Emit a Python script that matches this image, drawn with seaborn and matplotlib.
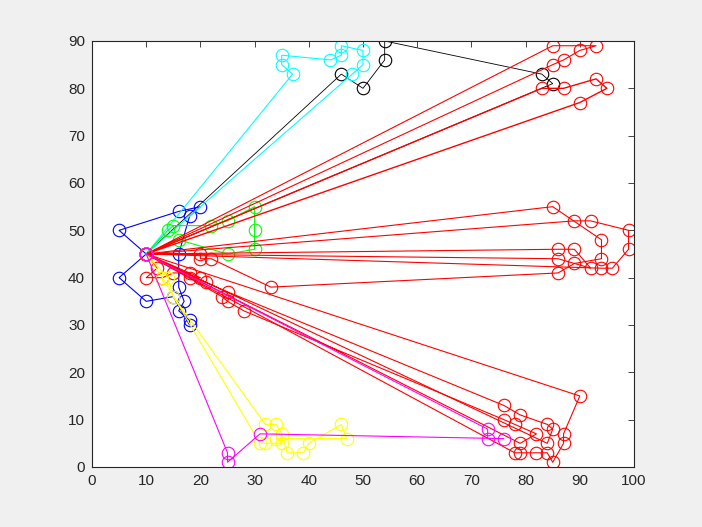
import matplotlib
matplotlib.use("Agg")
import matplotlib.pyplot as plt
import seaborn as sns
import pandas as pd

sns.set_style("white")
plt.rcParams['font.family'] = ['Liberation Sans', 'DejaVu Sans']

# depot
depot = (10, 45)

# routes (customers only; depot added at start and end)
black_x = [46, 50, 54, 54, 83, 85]
black_y = [83, 80, 86, 90, 83, 81]

blue_x = [5, 16, 20, 18, 16, 16, 17, 16, 18, 18, 15, 10, 5]
blue_y = [50, 54, 55, 53, 45, 38, 35, 33, 31, 30, 36, 35, 40]

cyan_x = [37, 35, 35, 44, 46, 46, 50, 50, 48]
cyan_y = [83, 85, 87, 86, 87, 89, 88, 85, 83]

green_x = [14, 15, 22, 25, 30, 30, 30, 25, 16]
green_y = [50, 51, 51, 52, 55, 50, 46, 45, 48]

red1_x = [85, 93, 90, 87, 85]
red1_y = [89, 89, 88, 86, 85]
red2_x = [83, 87, 93, 95, 90]
red2_y = [80, 80, 82, 80, 77]
red3_x = [89, 92, 99, 99, 96, 94]
red3_y = [52, 52, 50, 46, 42, 42]
red4_x = [85, 94, 94, 89, 86, 33, 22, 20, 20]
red4_y = [55, 48, 44, 43, 41, 38, 44, 44, 45]
red5_x = [86, 89, 92, 86]
red5_y = [46, 46, 42, 44]
red6_x = [12, 10, 13, 15, 18, 18, 20]
red6_y = [42, 40, 40, 41, 41, 40, 40]
red7_x = [90, 87, 87, 85, 84, 82, 79, 78]
red7_y = [15, 7, 5, 1, 3, 3, 3, 3]
red8_x = [21, 25, 76, 79, 84, 85, 84]
red8_y = [39, 37, 13, 11, 9, 8, 5]
red9_x = [24, 25, 28, 76, 78, 82, 79]
red9_y = [36, 35, 33, 10, 9, 7, 5]

yellow_x = [14, 15, 32, 34, 35, 36, 39, 40, 46, 47, 34, 35, 32, 31, 13]
yellow_y = [40, 36, 9, 9, 7, 3, 3, 5, 9, 6, 6, 5, 5, 5, 40]

magenta_x = [25, 25, 31, 76, 73, 73]
magenta_y = [3, 1, 7, 6, 6, 8]

K, B, C, G = '#000000', '#0000ff', '#00ffff', '#00ff00'
R, Y, M = '#ff0000', '#ffff00', '#ff00ff'

routes = [
    (black_x, black_y, K, 0.6),
    (blue_x, blue_y, B, 0.8),
    (cyan_x, cyan_y, C, 0.8),
    (green_x, green_y, G, 0.8),
    (red1_x, red1_y, R, 0.8), (red2_x, red2_y, R, 1.0), (red3_x, red3_y, R, 0.8),
    (red4_x, red4_y, R, 0.8), (red5_x, red5_y, R, 0.8), (red6_x, red6_y, R, 0.8),
    (red7_x, red7_y, R, 0.8), (red8_x, red8_y, R, 0.8), (red9_x, red9_y, R, 0.8),
    (yellow_x, yellow_y, Y, 0.8),
    (magenta_x, magenta_y, M, 0.8),
]

fig = plt.figure(figsize=(7.02, 5.27), dpi=100, facecolor='#f0f0f0')
ax = fig.add_axes([92/702, 60/527, 542/702, 426/527])
ax.set_facecolor('white')

for xs, ys, col, lw in routes:
    df = pd.DataFrame({'x': [depot[0]] + xs + [depot[0]],
                       'y': [depot[1]] + ys + [depot[1]]})
    sns.lineplot(data=df, x='x', y='y', sort=False, estimator=None, ax=ax,
                 color=col, lw=lw, marker='o', ms=9, mfc='none', mec=col, mew=0.8)

ax.set_xlim(0, 100)
ax.set_ylim(0, 90)
ax.set_xticks(range(0, 101, 10))
ax.set_yticks(range(0, 91, 10))
ax.set_xlabel('')
ax.set_ylabel('')
ax.tick_params(direction='in', length=4, width=0.6, top=True, right=True,
               labelsize=11, colors='#262626', pad=5)
for s in ax.spines.values():
    s.set_visible(True)
    s.set_color('#262626')
    s.set_linewidth(0.8)

fig.savefig('out.png', dpi=100, facecolor=fig.get_facecolor())
